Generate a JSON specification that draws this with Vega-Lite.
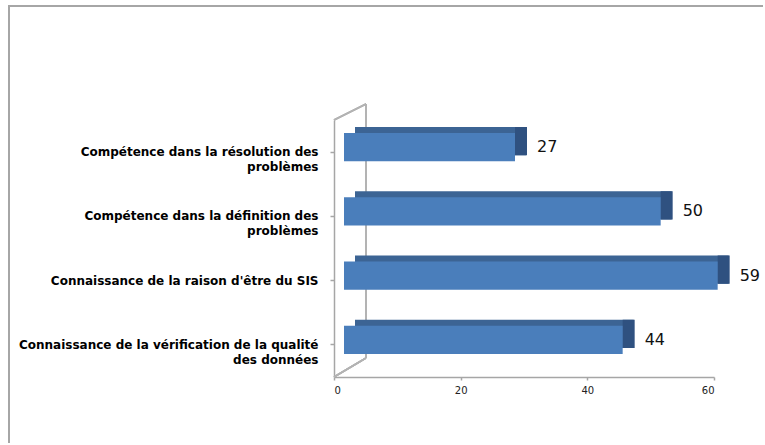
{
  "$schema": "https://vega.github.io/schema/vega-lite/v6.json",
  "autosize": "none",
  "width": 380,
  "height": 257,
  "padding": {"left": 334, "top": 120, "right": 51, "bottom": 68},
  "background": "white",
  "config": {"view": {"stroke": null}},
  "data": {"values": [
    {"item": "Compétence dans la résolution des problèmes", "value": 27},
    {"item": "Compétence dans la définition des problèmes", "value": 50},
    {"item": "Connaissance de la raison d'être du SIS", "value": 59},
    {"item": "Connaissance de la vérification de la qualité des données", "value": 44}
  ]},
  "resolve": {"scale": {"y": "independent"}, "axis": {"y": "independent"}},
  "layer": [
    {
      "layer": [
        {
          "mark": {"type": "rule", "color": "#A6A6A6", "strokeWidth": 2, "xOffset": -326, "x2Offset": 49, "yOffset": -114, "y2Offset": -114, "clip": false},
          "encoding": {
            "x": {"datum": 0, "type": "quantitative", "scale": {"domain": [0, 60]}},
            "x2": {"datum": 60},
            "y": {"datum": 1, "type": "quantitative", "scale": {"domain": [0, 1]}, "axis": null},
            "y2": {"datum": 1}
          }
        },
        {
          "mark": {"type": "rule", "color": "#A6A6A6", "strokeWidth": 2, "xOffset": -325, "x2Offset": -325, "yOffset": -115, "y2Offset": 66, "clip": false},
          "encoding": {
            "x": {"datum": 0, "type": "quantitative"},
            "x2": {"datum": 0},
            "y": {"datum": 1, "type": "quantitative"},
            "y2": {"datum": 0}
          }
        },
        {
          "mark": {"type": "rule", "color": "#B3B3B3", "strokeWidth": 1.5, "x2Offset": 32, "y2Offset": -16},
          "encoding": {
            "x": {"datum": 0, "type": "quantitative"},
            "x2": {"datum": 0},
            "y": {"datum": 1, "type": "quantitative"},
            "y2": {"datum": 1}
          }
        },
        {
          "mark": {"type": "rule", "color": "#B3B3B3", "strokeWidth": 1.5, "x2Offset": 32, "y2Offset": -19},
          "encoding": {
            "x": {"datum": 0, "type": "quantitative"},
            "x2": {"datum": 0},
            "y": {"datum": 0, "type": "quantitative"},
            "y2": {"datum": 0}
          }
        },
        {
          "mark": {"type": "rule", "color": "#B3B3B3", "strokeWidth": 1.5, "xOffset": 32, "x2Offset": 32, "yOffset": -16, "y2Offset": -19},
          "encoding": {
            "x": {"datum": 0, "type": "quantitative"},
            "x2": {"datum": 0},
            "y": {"datum": 1, "type": "quantitative"},
            "y2": {"datum": 0}
          }
        }
      ]
    },
    {
      "encoding": {
        "y": {
          "field": "item", "type": "nominal", "sort": null,
          "scale": {"paddingInner": 0, "paddingOuter": 0},
          "axis": {
            "title": null, "orient": "left",
            "domainColor": "#A6A6A6", "domainWidth": 1.5,
            "tickColor": "#A6A6A6", "tickSize": 4, "tickWidth": 1.5,
            "labelFont": "DejaVu Sans", "labelFontWeight": "bold", "labelFontSize": 12,
            "labelColor": "#000000", "labelPadding": 12, "labelLineHeight": 15,
            "labelLimit": 400,
            "labelExpr": "datum.value == 'Compétence dans la résolution des problèmes' ? ['Compétence dans la résolution des', 'problèmes'] : datum.value == 'Compétence dans la définition des problèmes' ? ['Compétence dans la définition des', 'problèmes'] : datum.value == 'Connaissance de la vérification de la qualité des données' ? ['Connaissance de la vérification de la qualité', 'des données'] : datum.value"
          }
        }
      },
      "layer": [
        {
          "mark": {"type": "bar", "color": "#3C6494", "height": {"band": 0.44}, "xOffset": 21, "x2Offset": 21, "yOffset": -11, "y2Offset": -11},
          "encoding": {
            "x": {"field": "value", "type": "quantitative", "scale": {"domain": [0, 60]},
              "axis": {"title": null, "values": [0, 20, 40, 60], "grid": false,
                "domainColor": "#A6A6A6", "domainWidth": 1.5,
                "tickColor": "#A6A6A6", "tickSize": 3, "tickWidth": 1.5,
                "labelFont": "DejaVu Sans", "labelFontSize": 10, "labelColor": "#222222", "labelPadding": 5}}
          }
        },
        {
          "mark": {"type": "bar", "color": "#2F5180", "height": {"band": 0.44}, "xOffset": 10, "x2Offset": 22, "yOffset": -11, "y2Offset": -11},
          "encoding": {
            "x": {"field": "value", "type": "quantitative"},
            "x2": {"field": "value"}
          }
        },
        {
          "mark": {"type": "bar", "color": "#4A7EBB", "height": {"band": 0.44}, "xOffset": 10, "x2Offset": 10, "yOffset": -5, "y2Offset": -5},
          "encoding": {
            "x": {"field": "value", "type": "quantitative"}
          }
        },
        {
          "mark": {"type": "text", "align": "left", "baseline": "middle", "font": "DejaVu Sans", "fontSize": 16, "color": "#111111", "xOffset": 32, "yOffset": -5},
          "encoding": {
            "x": {"field": "value", "type": "quantitative"},
            "text": {"field": "value", "type": "quantitative"}
          }
        }
      ]
    }
  ]
}
